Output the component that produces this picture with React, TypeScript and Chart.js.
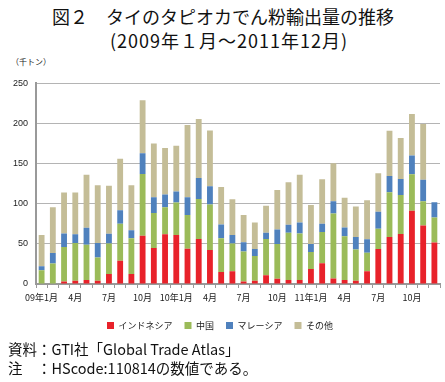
import React, { useEffect, useRef } from "react";
import { Chart, registerables } from "chart.js";

Chart.register(...registerables);

const months = [
  "09年1月", "", "", "4月", "", "", "7月", "", "", "10月", "", "",
  "10年1月", "", "", "4月", "", "", "7月", "", "", "10月", "", "",
  "11年1月", "", "", "4月", "", "", "7月", "", "", "10月", "", "",
];

const indonesia = [0, 0, 3, 4, 5, 4, 12.5, 29, 12.5, 60, 45, 62, 61, 44, 56, 42.5, 15, 16, 3, 4, 11, 6.5, 5, 5, 18.6, 26, 7, 5, 4, 16, 43.7, 58.7, 62.3, 91.4, 73, 51.8];
const china = [17, 25.5, 43, 47, 44, 29, 38, 46, 44.5, 77, 43.6, 33.6, 40.5, 42, 50, 56.5, 42, 34.6, 37.5, 31, 45, 43.5, 59, 58, 21.4, 38.7, 81, 54.5, 39, 23, 25.3, 55.8, 48.7, 45.3, 30, 31.2];
const malaysia = [5, 13, 17, 11, 21, 18, 12, 17, 10, 26, 19.4, 16, 13.8, 22, 26, 22.8, 17, 10.5, 11.5, 8.7, 8, 18, 9.7, 13.5, 9.8, 10.3, 15, 11, 15.7, 16.8, 21, 20.2, 20, 23.3, 27, 19];
const other = [39, 57, 51, 52, 66, 72, 60, 64, 56, 66, 67, 58, 57, 90, 73.5, 69.5, 47, 44.5, 34, 33, 33.5, 49, 53, 59.5, 48.5, 55.7, 47.5, 37, 38, 48.6, 48, 56.3, 51, 52, 69.4, 0];

const seriesNames = ["インドネシア", "中国", "マレーシア", "その他"];
const yTicks = [0, 50, 100, 150, 200, 250];

const FONT = "'Liberation Sans', 'Noto Sans CJK JP', sans-serif";
const JFONT = "'Noto Sans CJK JP', sans-serif";

export default function App() {
  const ref = useRef<HTMLCanvasElement | null>(null);
  useEffect(() => {
    document.body.style.margin = "0";
    if (!ref.current) return;
    const colors = ["#E8222A", "#9BBB59", "#4F81BD", "#C4BD97"];
    const data = [indonesia, china, malaysia, other];
    const chart = new Chart(ref.current, {
      type: "bar",
      data: {
        labels: months,
        datasets: seriesNames.map((n, i) => ({
          label: n,
          data: data[i],
          backgroundColor: colors[i],
          barPercentage: 0.52,
          categoryPercentage: 1,
          borderWidth: 0,
        })),
      },
      options: {
        animation: false,
        responsive: false,
        maintainAspectRatio: false,
        layout: { padding: { left: 0, right: 5, top: 10, bottom: 0 } },
        plugins: {
          legend: {
            position: "bottom",
            labels: {
              boxWidth: 7,
              boxHeight: 7,
              font: { family: JFONT, size: 9 },
              color: "#222",
              padding: 12,
            },
          },
          tooltip: { enabled: false },
        },
        scales: {
          x: {
            stacked: true,
            grid: { display: true, drawOnChartArea: false, drawTicks: true, tickLength: 4, color: "#999" },
            border: { color: "#999", width: 2 },
            ticks: {
              autoSkip: false,
              maxRotation: 0,
              font: { family: JFONT, size: 9 },
              color: "#222",
              padding: 4,
              callback: (_v: any, i: number) => months[i],
            },
            afterFit: (s: any) => { s.height = 25; },
          },
          y: {
            stacked: true,
            min: 0,
            max: 250,
            afterBuildTicks: (s: any) => { s.ticks = yTicks.map((v) => ({ value: v })); },
            grid: { color: "#b4b4b4", lineWidth: 1, drawTicks: false },
            border: { color: "#999", width: 2 },
            ticks: { font: { family: FONT, size: 9 }, color: "#222", padding: 8 },
            afterFit: (s: any) => { s.width = 36; },
          },
        },
      },
    });
    return () => chart.destroy();
  }, []);

  const abs = (o: React.CSSProperties): React.CSSProperties => ({ position: "absolute", whiteSpace: "nowrap", ...o });
  return (
    <div style={{ position: "relative", width: 445, height: 382, background: "#fff", overflow: "hidden" }}>
      <div style={abs({ left: 52, top: 4, fontFamily: JFONT, fontSize: 18, fontWeight: 400, color: "#111", lineHeight: "24px" })}>
        図２　タイのタピオカでん粉輸出量の推移
      </div>
      <div style={abs({ left: 110, top: 28, fontFamily: JFONT, fontSize: 18, fontWeight: 400, color: "#111", lineHeight: "24px", letterSpacing: 1 })}>
        (2009年１月～2011年12月)
      </div>
      <div style={abs({ left: 11, top: 56, fontFamily: JFONT, fontSize: 8, color: "#222" })}>（千トン）</div>
      <canvas ref={ref} width={445} height={270} style={abs({ left: 0, top: 70, width: 445, height: 270 })} />
      <div style={abs({ left: 8, top: 339, fontFamily: JFONT, fontSize: 14.5, color: "#111", lineHeight: "20px" })}>
        資料：GTI社「Global Trade Atlas」
      </div>
      <div style={abs({ left: 8, top: 358, fontFamily: JFONT, fontSize: 14.5, color: "#111", lineHeight: "20px" })}>
        注　：HScode:110814の数値である。
      </div>
    </div>
  );
}
